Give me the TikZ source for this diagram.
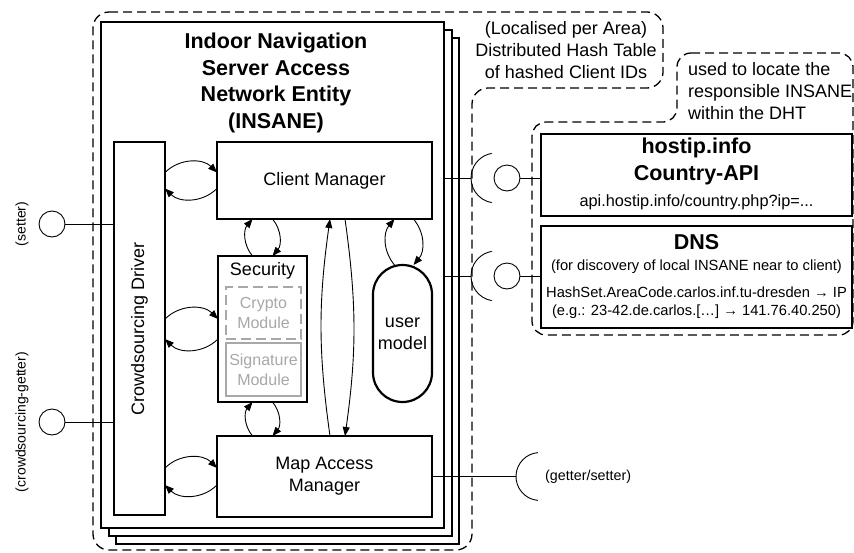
\documentclass[tikz,border=0pt]{standalone}
\usepackage{fontspec}
\setmainfont{Liberation Sans}
\usetikzlibrary{arrows.meta,calc}
\definecolor{modgray}{HTML}{A8A8A8}
\newcommand{\setfs}[2]{\fontsize{#1}{#2}\selectfont}
\tikzset{
  box/.style={draw, line width=2.2pt, fill=white, inner sep=0pt, outer sep=0pt},
  txt/.style={inner sep=0pt, align=center, font=\setfs{18}{22}},
  wire/.style={line width=0.9pt},
  flow/.style={line width=0.9pt, -{Triangle[length=9pt,width=7pt]}},
  ball/.style={draw, circle, line width=0.9pt, minimum size=26pt, inner sep=0pt, outer sep=0pt},
  region/.style={draw, line width=1.3pt, dash pattern=on 9pt off 5pt, rounded corners=16pt},
  module/.style={draw=modgray, line width=2pt, text=modgray, inner sep=0pt, outer sep=0pt,
                 align=center, font=\setfs{16}{20}, minimum width=75pt},
}
\begin{document}
\begin{tikzpicture}[x=1pt,y=-1pt]
\useasboundingbox (0,0) rectangle (854,552);
\fill[white] (0,0) rectangle (854,552);

% dashed regions: DHT of INSANEs and the external lookup services
\draw[region] (93,12) -- (663,12) -- (663,88) -- (472,88) -- (472,550) -- (93,550) -- cycle;
\draw[region, rounded corners=14pt] (677,53) -- (853,53) -- (853,335) -- (532,335) -- (532,122) -- (677,122) -- cycle;

% stacked INSANE instances
\node[box, minimum width=343pt, minimum height=506pt] (ent3) at (287.5,291) {};
\node[box, minimum width=343pt, minimum height=506pt] (ent2) at (280.5,283) {};
\node[box, minimum width=343pt, minimum height=506pt] (ent) at (272.5,275) {};
\node[txt, font=\bfseries\setfs{21.5}{26.7}] (title) at (276,83)
  {Indoor Navigation\\Server Access\\Network Entity\\(INSANE)};

% components
\node[box, minimum width=51pt, minimum height=373pt] (drv) at (139.5,328.5) {};
\node[txt, rotate=90] (drvlabel) at (drv.center) {Crowdsourcing Driver};

\node[box, txt, minimum width=215pt, minimum height=77pt] (cm) at (324.5,180.5) {Client Manager};

\node[box, minimum width=89pt, minimum height=146pt] (sec) at (262.5,329) {};
\node[txt] (seclabel) at (262.5,271) {Security};
\node[module, dash pattern=on 10pt off 5pt, minimum height=52pt] (crypto) at (263.5,313) {Crypto\\Module};
\node[module, minimum height=53pt] (sig) at (263.5,369.5) {Signature\\Module};

\node[box, txt, rounded corners=29.5pt, minimum width=59pt, minimum height=137pt] (um) at (402.5,333.5) {user\\model};

\node[box, txt, minimum width=215pt, minimum height=81pt] (map) at (324.5,476.5) {Map Access\\Manager};

% external services
\node[box, minimum width=311pt, minimum height=82pt] (hip) at (696.5,175) {};
\node[txt, font=\bfseries\setfs{21.5}{27}] (hiptitle) at (696.5,161.5) {hostip.info\\Country-API};
\node[txt, font=\setfs{16.3}{20}] (hipurl) at (696.5,202) {api.hostip.info/country.php?ip=...};

\node[box, minimum width=311pt, minimum height=102pt] (dns) at (696.5,277) {};
\node[txt, font=\bfseries\setfs{21.5}{27}] (dnstitle) at (696.5,242) {DNS};
\node[txt, font=\setfs{14.7}{18}] (dnsnote) at (696.5,267) {(for discovery of local INSANE near to client)};
\node[txt, font=\setfs{14.7}{18}] (dnsmap) at (696.5,303)
  {HashSet.AreaCode.carlos.inf.tu-dresden → IP\\(e.g.: 23-42.de.carlos.[…] → 141.76.40.250)};

% callout texts
\node[txt] (dht) at (566,50) {(Localised per Area)\\Distributed Hash Table\\of hashed Client IDs};
\node[txt, align=left, anchor=west] (locate) at (688,91) {used to locate the\\responsible INSANE\\within the DHT};

% driver <-> managers
\foreach \n/\d in {cm/8, sec/10, map/8.5} {
  \draw[flow] ($(drv.east |- \n.west)+(0,-\d)$) to[bend left=45] ($(\n.west)+(0,-\d)$);
  \draw[flow] ($(\n.west)+(0,\d)$) to[bend left=45] ($(drv.east |- \n.west)+(0,\d)$);
}

% client manager <-> security <-> map access manager
\draw[flow] ($(sec.north)+(-10,0)$) to[bend left=40] ($(sec.north |- cm.south)+(-10,0)$);
\draw[flow] ($(sec.north |- cm.south)+(10,0)$) to[bend left=40] ($(sec.north)+(10,0)$);
\draw[flow] ($(sec.south |- map.north)+(-10,0)$) to[bend left=40] ($(sec.south)+(-10,0)$);
\draw[flow] ($(sec.south)+(10,0)$) to[bend left=40] ($(sec.south |- map.north)+(10,0)$);

% client manager <-> map access manager
\coordinate (lanel) at (330,0);
\coordinate (laner) at (345,0);
\draw[flow] (lanel |- map.north) to[bend left=8] (lanel |- cm.south);
\draw[flow] (laner |- cm.south) to[bend left=8] (laner |- map.north);

% client manager <-> user model
\draw[flow] ($(um.north)+(-8,0)$) to[bend left=40] ($(um.north |- cm.south)+(-8,0)$);
\draw[flow] ($(um.north |- cm.south)+(11,0)$) to[bend left=40] ($(um.north)+(11,0)$);

% provided interfaces of the crowdsourcing driver
\node[ball] (bset) at (52,224) {};
\node[ball] (bget) at (52,422) {};
\draw[wire] (bset.east) -- (bset -| drv.west);
\draw[wire] (bget.east) -- (bget -| drv.west);
\node[txt, font=\setfs{14}{16}, rotate=90] (lset) at (22,224) {(setter)};
\node[txt, font=\setfs{14}{16}, rotate=90] (lget) at (22,422) {(crowdsourcing-getter)};

% required interfaces towards hostip.info and DNS
\coordinate (skhip) at (496,178);
\coordinate (skdns) at (496,276);
\node[ball] (bhip) at (507,178) {};
\node[ball] (bdns) at (507,276) {};
\foreach \s in {skhip, skdns}
  \draw[wire] ([shift={(100:25)}]\s) arc[start angle=100, end angle=260, radius=25];
\draw[wire] (ent.east |- skhip) -- ($(skhip)+(-25,0)$);
\draw[wire] (ent.east |- skdns) -- ($(skdns)+(-25,0)$);
\draw[wire] (bhip.east) -- (bhip -| hip.west);
\draw[wire] (bdns.east) -- (bdns -| dns.west);

% required interface of the map access manager
\coordinate (skmap) at ($(map.east)+(108,0)$);
\draw[wire] ([shift={(95:24)}]skmap) arc[start angle=95, end angle=265, radius=24];
\draw[wire] (map.east) -- ($(skmap)+(-24,0)$);
\node[txt, font=\setfs{14.3}{16}, anchor=west] (lmap) at (545,477) {(getter/setter)};
\end{tikzpicture}
\end{document}
